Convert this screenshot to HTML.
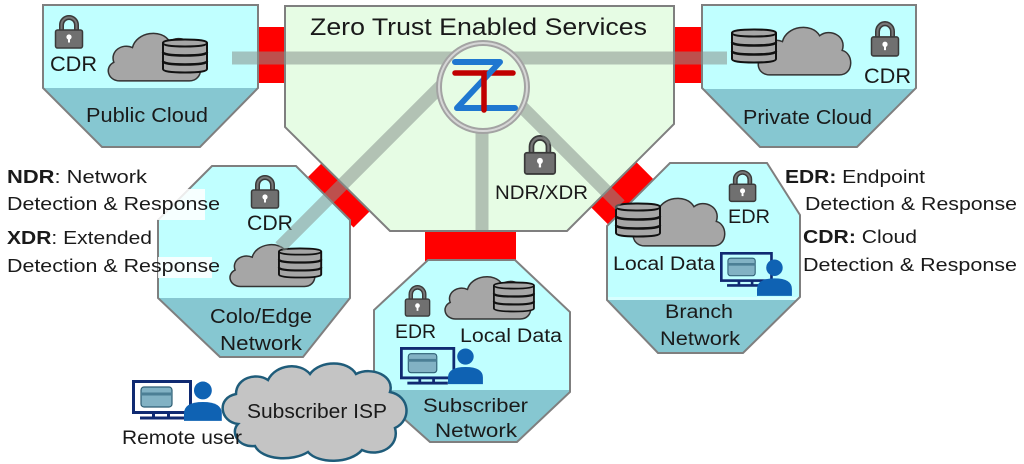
<!DOCTYPE html>
<html><head><meta charset="utf-8"><style>
html,body{margin:0;padding:0;background:#fff;}
svg{display:block;}
text{font-family:"Liberation Sans",sans-serif;fill:#1a1a1a;}
</style></head><body>
<svg width="1024" height="464" viewBox="0 0 1024 464" xmlns="http://www.w3.org/2000/svg">
<defs>
  <g id="lock">
    <path d="M7.5 17 V10 A7.5 7.5 0 0 1 22.5 10 V17" fill="none" stroke="#3a3a3a" stroke-width="5"/>
    <path d="M7.5 17 V10 A7.5 7.5 0 0 1 22.5 10 V17" fill="none" stroke="#777" stroke-width="2"/>
    <rect x="1.5" y="15" width="27" height="18" rx="2" fill="#707070" stroke="#3a3a3a" stroke-width="1.5"/>
    <circle cx="15" cy="22" r="2.6" fill="#fff"/>
    <rect x="14" y="23" width="2" height="4.5" fill="#fff"/>
  </g>
  <g id="db">
    <path d="M1 4 Q1 0.5 23 0.5 Q45 0.5 45 4 V30 Q45 33.5 23 33.5 Q1 33.5 1 30 Z" fill="#a6a6a6" stroke="#111" stroke-width="2"/>
    <path d="M1 4 Q1 7.5 23 7.5 Q45 7.5 45 4" fill="none" stroke="#111" stroke-width="2"/>
    <path d="M1 13 Q1 16.5 23 16.5 Q45 16.5 45 13" fill="none" stroke="#111" stroke-width="2.5"/>
    <path d="M1 22 Q1 25.5 23 25.5 Q45 25.5 45 22" fill="none" stroke="#111" stroke-width="2.5"/>
  </g>
  <path id="cloud" d="M15 54 C3 54 -1 40 9 35 C5 24 17 15 28 20 C32 4 58 0 66 14 C76 6 94 14 89 29 C101 32 101 54 86 54 Z" fill="#a6a6a6" stroke="#333" stroke-width="1.5" vector-effect="non-scaling-stroke"/>
  <g id="monitor">
    <rect x="1.5" y="1.5" width="57" height="31" fill="none" stroke="#102a72" stroke-width="3"/>
    <rect x="9" y="7" width="31" height="20" rx="3" fill="#82b2c4" stroke="#2d5d73" stroke-width="1.2"/>
    <rect x="9" y="12.5" width="31" height="3" fill="#4c7f95"/>
    <rect x="20" y="33" width="3" height="4" fill="#102a72"/>
    <rect x="35" y="33" width="3" height="4" fill="#102a72"/>
    <rect x="8" y="36.5" width="44" height="3" fill="#102a72"/>
  </g>
  <g id="person">
    <circle cx="18" cy="9" r="8.5" fill="#0f62b3"/>
    <path d="M0 38 V31 Q0 20 18 20 Q36 20 36 31 V38 Z" fill="#0f62b3"/>
  </g>
  <clipPath id="cpPub"><polygon points="43,5 258,5 258,88 200,147 102,147 43,88"/></clipPath>
  <clipPath id="cpPriv"><polygon points="702,5 916,5 916,88 857,147 760,147 702,88"/></clipPath>
  <clipPath id="cpColo"><polygon points="212,166 296,166 350,220 350,298 303,357 220,357 158,298 158,220"/></clipPath>
  <clipPath id="cpBr"><polygon points="670,163 767,163 800,215 800,297 743,353 658,353 607,300 607,226"/></clipPath>
  <clipPath id="cpSub"><polygon points="428,260 515,260 570,312 570,392 517,442 430,442 374,392 374,310"/></clipPath>
</defs>

<!-- red connectors -->
<rect x="254" y="27" width="34" height="56" fill="#ff0000"/>
<rect x="671" y="27" width="34" height="56" fill="#ff0000"/>
<rect x="425" y="229" width="91" height="32" fill="#ff0000"/>
<g transform="translate(338,195) rotate(45)"><rect x="-34" y="-12" width="68" height="24" fill="#ff0000"/></g>
<g transform="translate(622,193) rotate(-45)"><rect x="-32" y="-13" width="64" height="26" fill="#ff0000"/></g>

<!-- center polygon -->
<polygon points="285,6 674,6 674,124 567,231 390,231 285,127" fill="#e6fce4" stroke="#7f7f7f" stroke-width="2"/>

<!-- public cloud -->
<g clip-path="url(#cpPub)">
  <rect x="0" y="0" width="300" height="160" fill="#c0ffff"/>
  <rect x="0" y="88" width="300" height="80" fill="#86c7d1"/>
</g>
<polygon points="43,5 258,5 258,88 200,147 102,147 43,88" fill="none" stroke="#7f7f7f" stroke-width="2"/>

<!-- private cloud -->
<g clip-path="url(#cpPriv)">
  <rect x="690" y="0" width="240" height="160" fill="#c0ffff"/>
  <rect x="690" y="89" width="240" height="80" fill="#86c7d1"/>
</g>
<polygon points="702,5 916,5 916,88 857,147 760,147 702,88" fill="none" stroke="#7f7f7f" stroke-width="2"/>

<!-- colo -->
<g clip-path="url(#cpColo)">
  <rect x="150" y="160" width="210" height="200" fill="#c0ffff"/>
  <rect x="150" y="298" width="210" height="70" fill="#86c7d1"/>
</g>
<polygon points="212,166 296,166 350,220 350,298 303,357 220,357 158,298 158,220" fill="none" stroke="#7f7f7f" stroke-width="2"/>

<!-- branch -->
<g clip-path="url(#cpBr)">
  <rect x="600" y="160" width="210" height="200" fill="#c0ffff"/>
  <rect x="600" y="300" width="210" height="60" fill="#86c7d1"/>
  <rect x="600" y="297" width="210" height="3" fill="#d8ffff"/>
</g>
<polygon points="670,163 767,163 800,215 800,297 743,353 658,353 607,300 607,226" fill="none" stroke="#7f7f7f" stroke-width="2"/>

<!-- subscriber -->
<g clip-path="url(#cpSub)">
  <rect x="370" y="255" width="210" height="200" fill="#c0ffff"/>
  <rect x="370" y="390" width="210" height="60" fill="#86c7d1"/>
</g>
<polygon points="428,260 515,260 570,312 570,392 517,442 430,442 374,392 374,310" fill="none" stroke="#7f7f7f" stroke-width="2"/>

<!-- icons: public -->
<use href="#lock" transform="translate(54,15)"/>
<use href="#cloud" transform="translate(105,28) scale(0.98,0.98)"/>
<use href="#db" transform="translate(162,39)"/>
<!-- private -->
<use href="#cloud" transform="translate(755,22) scale(0.98,0.98)"/>
<use href="#db" transform="translate(731,29)"/>
<use href="#lock" transform="translate(870,21) scale(1,1.06)"/>
<!-- center lock -->
<use href="#lock" transform="translate(523,135) scale(1.13,1.18)"/>
<!-- colo -->
<use href="#lock" transform="translate(250,175)"/>
<use href="#cloud" transform="translate(227,240) scale(0.9,0.86)"/>
<use href="#db" transform="translate(278,248) scale(0.96,0.88)"/>
<!-- branch -->
<use href="#lock" transform="translate(728,170) scale(0.97,0.95)"/>
<use href="#cloud" transform="translate(630,193) scale(0.97,0.98)"/>
<use href="#db" transform="translate(615,203)"/>
<use href="#monitor" transform="translate(720,252) scale(0.88)"/>
<use href="#person" transform="translate(757,259) scale(0.97)"/>
<!-- subscriber -->
<use href="#lock" transform="translate(404,285) scale(0.9,0.94)"/>
<use href="#cloud" transform="translate(442,272) scale(0.91,0.87)"/>
<use href="#db" transform="translate(493,282) scale(0.91,0.88)"/>
<use href="#monitor" transform="translate(400,347) scale(0.92,0.95)"/>
<use href="#person" transform="translate(448,348) scale(0.97,0.95)"/>

<!-- labels inside boxes -->
<text x="50" y="71" font-size="21" textLength="47" lengthAdjust="spacingAndGlyphs">CDR</text>
<text x="86" y="122" font-size="20" textLength="122" lengthAdjust="spacingAndGlyphs">Public Cloud</text>
<text x="864" y="83" font-size="21" textLength="47" lengthAdjust="spacingAndGlyphs">CDR</text>
<text x="743" y="124" font-size="20" textLength="129" lengthAdjust="spacingAndGlyphs">Private Cloud</text>
<text x="310" y="35" font-size="24" textLength="337" lengthAdjust="spacingAndGlyphs">Zero Trust Enabled Services</text>
<text x="495" y="199" font-size="19" textLength="93" lengthAdjust="spacingAndGlyphs">NDR/XDR</text>
<text x="247" y="230" font-size="21" textLength="46" lengthAdjust="spacingAndGlyphs">CDR</text>
<text x="210" y="323" font-size="20" textLength="102" lengthAdjust="spacingAndGlyphs">Colo/Edge</text>
<text x="220" y="350" font-size="20" textLength="82" lengthAdjust="spacingAndGlyphs">Network</text>
<text x="728" y="223" font-size="19" textLength="42" lengthAdjust="spacingAndGlyphs">EDR</text>
<text x="613" y="270" font-size="19" textLength="102" lengthAdjust="spacingAndGlyphs">Local Data</text>
<text x="665" y="318" font-size="19" textLength="68" lengthAdjust="spacingAndGlyphs">Branch</text>
<text x="660" y="345" font-size="19" textLength="80" lengthAdjust="spacingAndGlyphs">Network</text>
<text x="395" y="338" font-size="19" textLength="41" lengthAdjust="spacingAndGlyphs">EDR</text>
<text x="460" y="342" font-size="19" textLength="102" lengthAdjust="spacingAndGlyphs">Local Data</text>
<text x="423" y="412" font-size="19" textLength="105" lengthAdjust="spacingAndGlyphs">Subscriber</text>
<text x="435" y="437" font-size="19" textLength="82" lengthAdjust="spacingAndGlyphs">Network</text>

<!-- translucent gray bars -->
<g fill="none" stroke="rgba(135,145,140,0.55)" stroke-width="13">
  <line x1="232" y1="58" x2="727" y2="58"/>
  <line x1="452" y1="75" x2="280" y2="247"/>
  <line x1="500" y1="85" x2="620" y2="205"/>
  <line x1="482" y1="100" x2="482" y2="230"/>
</g>

<!-- Z logo -->
<circle cx="483" cy="87" r="44" fill="#e6fce4" stroke="#a3a3a3" stroke-width="6"/>
<circle cx="483" cy="87" r="44" fill="none" stroke="#d6d6d6" stroke-width="2"/>
<line x1="455" y1="73" x2="513" y2="73" stroke="#c00000" stroke-width="5.5" stroke-linecap="round"/>
<path d="M455 62 H500 L457 108 H515" fill="none" stroke="#1f77d0" stroke-width="6" stroke-linecap="round" stroke-linejoin="round"/>
<line x1="484" y1="73" x2="484" y2="110" stroke="#c00000" stroke-width="5.5" stroke-linecap="round"/>

<!-- white boxes behind left legend -->
<rect x="153" y="189" width="52" height="31" fill="#fff" opacity="0.85"/>
<rect x="158" y="257" width="54" height="21" fill="#fff" opacity="0.85"/>

<!-- legends -->
<text x="7" y="183" font-size="18" textLength="140" lengthAdjust="spacingAndGlyphs"><tspan font-weight="bold">NDR</tspan>: Network</text>
<text x="7" y="210" font-size="18" textLength="213" lengthAdjust="spacingAndGlyphs">Detection &amp; Response</text>
<text x="7" y="244" font-size="18" textLength="145" lengthAdjust="spacingAndGlyphs"><tspan font-weight="bold">XDR</tspan>: Extended</text>
<text x="7" y="272" font-size="18" textLength="213" lengthAdjust="spacingAndGlyphs">Detection &amp; Response</text>
<text x="785" y="183" font-size="18" textLength="140" lengthAdjust="spacingAndGlyphs"><tspan font-weight="bold">EDR:</tspan> Endpoint</text>
<text x="805" y="210" font-size="18" textLength="212" lengthAdjust="spacingAndGlyphs">Detection &amp; Response</text>
<text x="803" y="243" font-size="18" textLength="114" lengthAdjust="spacingAndGlyphs"><tspan font-weight="bold">CDR:</tspan> Cloud</text>
<text x="803" y="271" font-size="18" textLength="214" lengthAdjust="spacingAndGlyphs">Detection &amp; Response</text>

<!-- Subscriber ISP cloud -->
<path d="M255 446 C238 448 230 432 238 424 C220 422 216 398 236 394 C236 378 256 372 268 380 C276 364 300 362 310 374 C320 360 348 360 356 374 C372 366 395 376 390 392 C410 396 412 420 395 428 C400 446 380 458 362 450 C350 464 318 464 308 452 C292 462 262 460 255 446 Z" fill="#c4c4c4" stroke="#1f5c7a" stroke-width="2.5"/>
<text x="247" y="418" font-size="20" textLength="140" lengthAdjust="spacingAndGlyphs">Subscriber ISP</text>

<!-- Remote user -->
<use href="#monitor" transform="translate(132,380)"/>
<use href="#person" transform="translate(184,381) scale(1.05)"/>
<text x="122" y="444" font-size="19" textLength="120" lengthAdjust="spacingAndGlyphs">Remote user</text>
</svg>
</body></html>
